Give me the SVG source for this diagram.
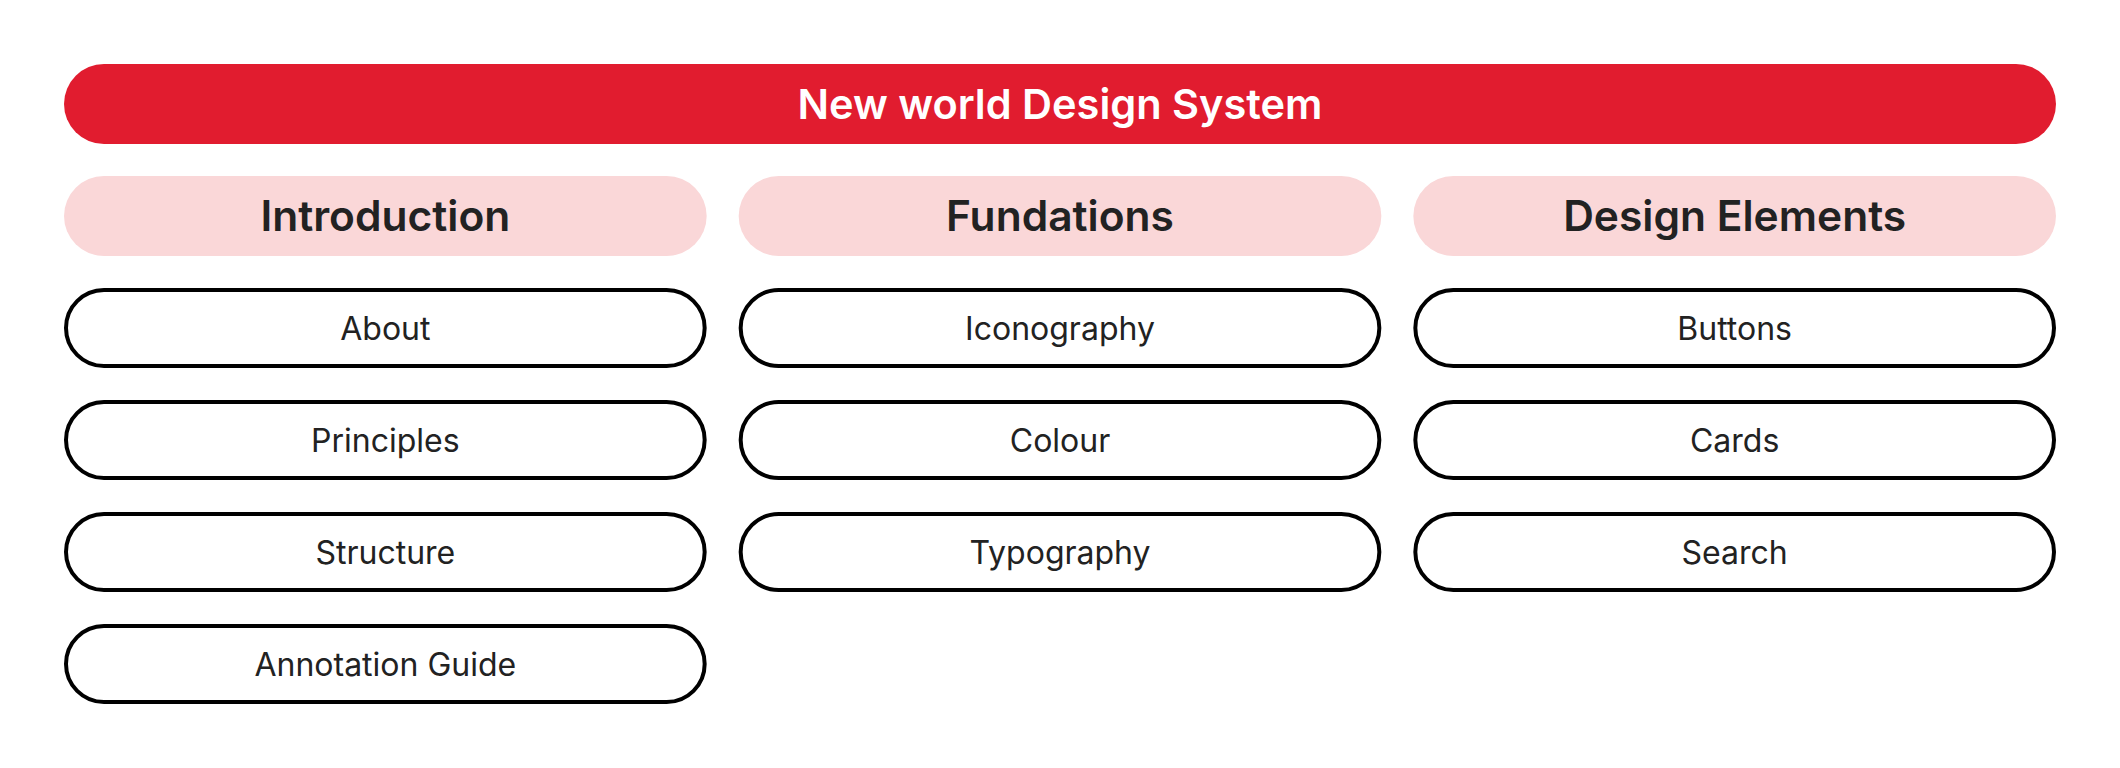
<svg xmlns="http://www.w3.org/2000/svg" width="2120" height="768" viewBox="0 0 2120 768">
<style>
.title{font-family:Inter,"Noto Sans",sans-serif;font-weight:600;font-size:41.5px;fill:#ffffff;text-anchor:middle}
.head{font-family:Inter,"Noto Sans",sans-serif;font-weight:600;font-size:42.5px;fill:#222222;text-anchor:middle}
.item{font-family:Inter,"Noto Sans",sans-serif;font-weight:400;font-size:32px;fill:#222222;text-anchor:middle}
.hbox{fill:#FAD7D8}
.ibox{fill:#ffffff;stroke:#000000;stroke-width:4}
</style>
<rect width="2120" height="768" fill="#ffffff"/>
<g id="root">
<rect x="64" y="64" width="1992" height="80" rx="40" fill="#E11C2F"/>
<text class="title" x="1060" y="118.5">New world Design System</text>
</g>
<g id="introduction">
<rect class="hbox" x="64" y="176" width="642.67" height="80" rx="40"/>
<text class="head" x="385.33" y="231">Introduction</text>
</g>
<g id="fundations">
<rect class="hbox" x="738.67" y="176" width="642.67" height="80" rx="40"/>
<text class="head" x="1060" y="231">Fundations</text>
</g>
<g id="design-elements">
<rect class="hbox" x="1413.33" y="176" width="642.67" height="80" rx="40"/>
<text class="head" x="1734.67" y="231">Design Elements</text>
</g>
<g id="about"><rect class="ibox" x="66" y="290" width="638.67" height="76" rx="38"/><text class="item" x="385.33" y="340">About</text></g>
<g id="principles"><rect class="ibox" x="66" y="402" width="638.67" height="76" rx="38"/><text class="item" x="385.33" y="452">Principles</text></g>
<g id="structure"><rect class="ibox" x="66" y="514" width="638.67" height="76" rx="38"/><text class="item" x="385.33" y="564">Structure</text></g>
<g id="annotation-guide"><rect class="ibox" x="66" y="626" width="638.67" height="76" rx="38"/><text class="item" x="385.33" y="676">Annotation Guide</text></g>
<g id="iconography"><rect class="ibox" x="740.67" y="290" width="638.67" height="76" rx="38"/><text class="item" x="1060" y="340">Iconography</text></g>
<g id="colour"><rect class="ibox" x="740.67" y="402" width="638.67" height="76" rx="38"/><text class="item" x="1060" y="452">Colour</text></g>
<g id="typography"><rect class="ibox" x="740.67" y="514" width="638.67" height="76" rx="38"/><text class="item" x="1060" y="564">Typography</text></g>
<g id="buttons"><rect class="ibox" x="1415.33" y="290" width="638.67" height="76" rx="38"/><text class="item" x="1734.67" y="340">Buttons</text></g>
<g id="cards"><rect class="ibox" x="1415.33" y="402" width="638.67" height="76" rx="38"/><text class="item" x="1734.67" y="452">Cards</text></g>
<g id="search"><rect class="ibox" x="1415.33" y="514" width="638.67" height="76" rx="38"/><text class="item" x="1734.67" y="564">Search</text></g>
<g id="connectors"/>
</svg>
